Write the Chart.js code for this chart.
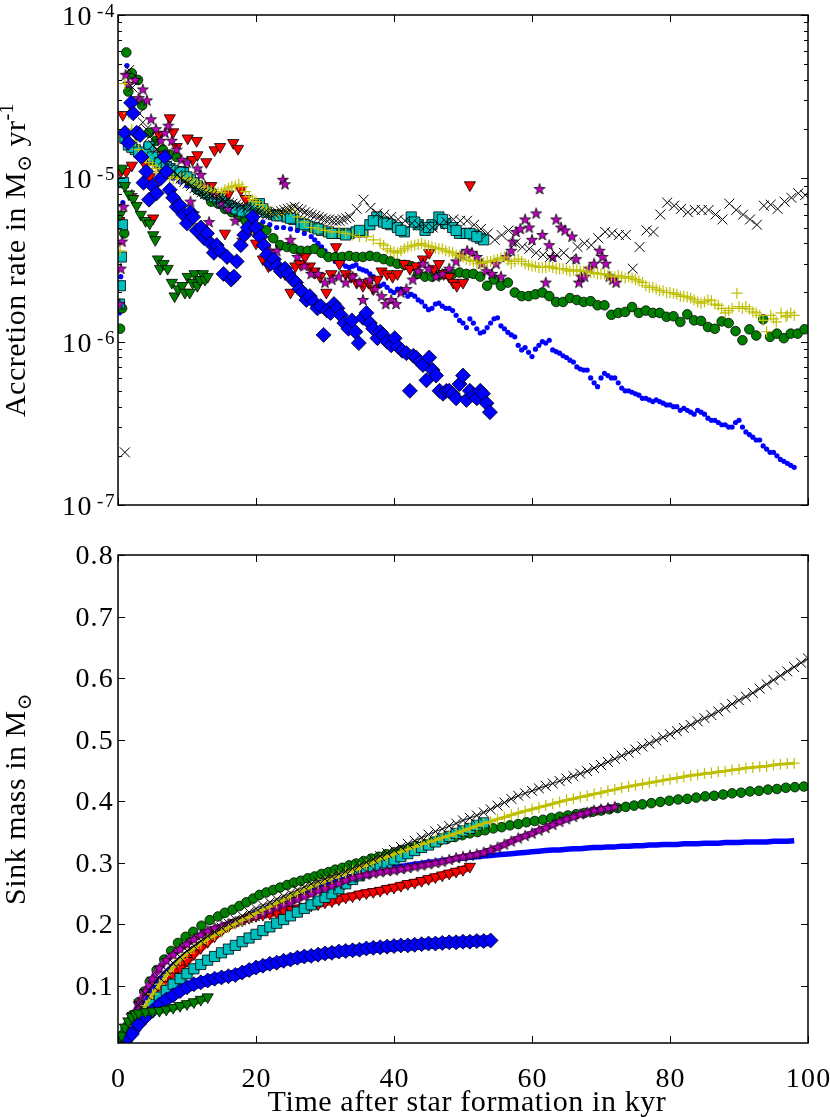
<!DOCTYPE html>
<html><head><meta charset="utf-8">
<script src="https://cdn.jsdelivr.net/npm/chart.js@4.4.1/dist/chart.umd.min.js"></script>
<style>body{margin:0;background:#fff;width:830px;height:1117px;overflow:hidden}canvas{position:absolute;left:0}</style>
</head><body>
<canvas id="c1" width="830" height="530" style="top:0"></canvas>
<canvas id="c2" width="830" height="587" style="top:530px"></canvas>
<script>
// ---------- axis ticks / labels ----------
const timeTicks = [0, 20, 40, 60, 80, 100];
const accTicks = [1e-4, 1e-5, 1e-6, 1e-7];
const accTickExp = ['-4', '-5', '-6', '-7'];
const massTicks = [0.1, 0.2, 0.3, 0.4, 0.5, 0.6, 0.7, 0.8];
const massTickLabels = ['0.1', '0.2', '0.3', '0.4', '0.5', '0.6', '0.7', '0.8'];
const ACC_UNIT = 1e-6; // accretion values below are in 1e-6 Msun/yr

// ---------- accretion rate (time kyr, rate in 1e-6 Msun/yr) ----------
const accBlueDot = [[0.2,1.5],[0.4,2.5],[0.7,7.1],[1,19.7],[1.3,49],[2,30],[3,20],[4,16],[5,13],[6,12],[7,11],[8,10],[9,9.5],[10,9],[11,8.5],[12,8],[13,7.5],[14,7],[15,6.8],[16,6.5],[17,6.3],[18,6],[19,5.8],[20,5.6],[21,5.4],[22,5.2],[23,5],[24,5],[25,4.9],[26,4.8],[27,4.6],[28,4.4],[29,4],[30,3.6],[31,3.3],[32,3],[33,2.9],[34,2.9],[35,2.8],[36,2.7],[37,2.5],[38,2.2],[39,2.15],[40,2],[41,2.1],[42,1.9],[43,1.9],[44,1.75],[45,1.57],[46,1.7],[47,1.65],[48,1.6],[49,1.45],[50,1.3],[51,1.38],[52,1.2],[53,1.15],[54,1.3],[55,1.4],[56,1.2],[57,1.1],[58,0.95],[59,0.92],[60,0.81],[61,0.95],[62,0.98],[63,0.89],[64,0.85],[65,0.8],[66,0.75],[67,0.68],[68,0.67],[69,0.56],[70,0.6],[71,0.62],[72,0.6],[73,0.52],[74,0.5],[75,0.48],[76,0.45],[77,0.44],[78,0.44],[79,0.42],[80,0.41],[81,0.4],[82,0.39],[83,0.37],[84,0.38],[85,0.36],[86,0.33],[87,0.32],[88,0.31],[89,0.3],[90,0.33],[91,0.28],[92,0.26],[93,0.25],[94,0.22],[95,0.21],[96,0.19],[97,0.18],[98,0.17],
[28.5,4.2],[29.5,3.8],[30.5,3.4],[31.5,3.1],[32.5,3],[33.5,2.85],[34.5,2.95],[35.5,2.75],[36.5,2.6],[37.5,2.4],[38.5,2.25],[39.5,2.05],[40.5,2.1],[41.5,2],[42.5,1.95],[43.5,1.8],[44.5,1.65],[45.5,1.6],[46.5,1.72],[47.5,1.6],[48.5,1.55],[49.5,1.35],[50.5,1.22],[51.5,1.3],[52.5,1.13],[53.5,1.22],[54.5,1.38],[55.5,1.25],[56.5,1.14],[57.5,1.07],[58.5,0.89],[59.5,0.86],[60.5,0.9],[61.5,1],[62.5,1.02],[63.5,0.87],[64.5,0.82],[65.5,0.77],[66.5,0.7],[67.5,0.67],[68.5,0.6],[69.5,0.53],[70.5,0.64],[71.5,0.6],[72.5,0.56],[73.5,0.5],[74.5,0.49],[75.5,0.47],[76.5,0.45],[77.5,0.43],[78.5,0.43],[79.5,0.41],[80.5,0.4],[81.5,0.38],[82.5,0.38],[83.5,0.36],[84.5,0.37],[85.5,0.34],[86.5,0.33],[87.5,0.31],[88.5,0.3],[89.5,0.32],[90.5,0.3],[91.5,0.27],[92.5,0.25],[93.5,0.23],[94.5,0.21],[95.5,0.2],[96.5,0.185],[97.5,0.175]];

const accGreenCircle = [[0.3,1.2],[0.6,1.6],[0.9,4.6],[1.2,59],[1.5,34],[2,44],[2.9,40],[3.5,28],[4.5,19],[5.5,17],[6.5,15],[7.5,14],[8.5,13.5],[9.5,11],[10.5,9.5],[11.5,8.5],[12.5,8],[13.5,7.2],[14.5,7],[15.5,6.5],[16.5,6.2],[17.5,5.8],[18.5,5.5],[19.5,5.2],[20.5,5],[21.5,4.8],[22.5,4.3],[23.5,3.9],[24.5,3.8],[25.5,3.7],[26.5,3.6],[27.5,3.6],[28.5,3.7],[29.5,3.5],[30.5,3.3],[31.5,3.3],[32.5,3.3],[33.5,3.35],[34.5,3.3],[35.5,3.3],[36.5,3.35],[37.5,3.3],[38.5,3.2],[39.5,3.1],[40.5,3],[41.5,2.95],[42.5,2.9],[43.5,2.6],[44.5,2.5],[45.5,2.5],[46.5,2.55],[47.5,2.6],[48.5,2.6],[49.5,2.65],[50.5,2.6],[51.5,2.6],[52.5,2.5],[53.5,2.2],[54.5,2.4],[55.5,2.2],[56.5,2.3],[57.5,2],[58.5,1.9],[59.5,1.9],[60.5,1.95],[61.5,2],[62.5,1.9],[63.5,1.75],[64.5,1.75],[65.5,1.85],[66.5,1.8],[67.5,1.75],[68.5,1.77],[69.5,1.67],[70.5,1.67],[71.5,1.46],[72.5,1.5],[73.5,1.52],[74.5,1.63],[75.5,1.5],[76.5,1.55],[77.5,1.5],[78.5,1.5],[79.5,1.42],[80.5,1.43],[81.5,1.32],[82.5,1.47],[83.5,1.35],[84.5,1.34],[85.5,1.23],[86.5,1.2],[87.5,1.33],[88.5,1.3],[89.5,1.16],[90.5,1.02],[91.5,1.19],[92.5,1.09],[93.5,1.37],[94.5,1.07],[95.5,1.12],[96.5,1.05],[97.5,1.12],[98.5,1.12],[99.5,1.19]];

const accRedTri = [[0.2,5.5],[0.4,11],[0.7,24.5],[1.2,11],[2,12],[3,14],[4,12],[4.6,10.2],[5.1,5.7],[6,18.5],[6.7,14],[7.5,23.4],[8,19.2],[8.5,15.6],[9.4,11.2],[10.1,17.6],[10.8,13],[11.4,17],[11.5,13.9],[12.8,12.6],[13.5,9],[14,14.9],[14.8,15.6],[15.5,4.6],[16,8],[16.7,16.5],[17.4,15.2],[17.8,8.5],[18.5,7.5],[19.3,6.5],[20,4],[21,3.2],[21.8,2.9],[22.6,3.1],[23.4,2.8],[24.2,2.6],[25,2],[25.7,2.9],[26.4,3],[27.1,3.3],[27.8,2.9],[28.5,2.7],[29.3,2.5],[30.2,2],[30.9,2.6],[31.6,3.8],[32.1,3],[33,2.6],[33.8,2.5],[34.6,2.3],[35.5,2.2],[36.3,2.3],[37,2.1],[37.6,2.4],[38.2,2.7],[39,2.6],[39.8,2.5],[40.5,2.6],[41.5,3],[42.3,2.8],[43.2,2.9],[44.2,3.2],[45.1,3.5],[45.8,2.8],[46.5,3],[47.2,2.6],[48,2.5],[48.6,2.3],[49.1,2.2],[50,2.3],[51,9.1]];

const accCyanSq = [[0.2,1.7],[0.35,2.2],[0.5,3.3],[0.65,5.2],[0.8,9.4],[1,17.6],[1.5,16],[2.5,15],[3.5,14],[4.5,15.6],[5.5,13],[6.5,12],[7.5,11.5],[8.5,11],[9.5,10.8],[10.5,9.8],[11.5,9],[12.5,8.5],[13.5,8],[14.5,7.5],[15.5,7],[16.5,6.6],[17.5,6.4],[18.5,6.2],[19.5,6.6],[20.5,7],[21.5,6.2],[22.5,6],[23.5,5.9],[24.5,5.8],[25.5,5.6],[26.5,5.3],[27.5,5.1],[28.5,5],[29.5,4.8],[30.5,4.7],[31.5,4.6],[32.5,4.6],[33.5,4.6],[34.5,4.7],[35.5,4.7],[36.5,5.2],[37.5,5.8],[38.5,5.4],[39.5,5.2],[40.5,5],[41.5,4.7],[42.5,5.8],[43.5,5.2],[44.5,4.8],[45.5,5.2],[46.5,5.8],[47.5,5.3],[48.5,5],[49.5,4.6],[50.5,4.6],[51.5,4.5],[52.5,4.3],[53,4.2],
[2,15.5],[3,14.5],[4,14],[5,13.5],[6,12.5],[7,11.8],[8,11.2],[9,10.9],[10,10.2],[11,9.4],[12,8.7],[13,8.2],[14,7.7],[15,7.2],[16,6.8],[17,6.5],[18,6.3],[19,6.4],[20,6.8],
[21,6.5],[23,5.9],[25,5.7],[27,5.2],[29,4.9],[31,4.6],[33,4.5],[35,4.8],[37,5.5],[39,5.3],[41,4.8],[43,5.4],[45,5],[47,5.6],[49,4.8],[51,4.6],[52,4.4]];

const accMagStar = [[0.2,1.7],[0.4,2.8],[0.6,4.1],[0.8,6.7],[1.1,43],[1.5,38],[2,7.9],[2.5,40],[3,31],[3.6,35],[4.2,30],[4.8,23],[5.5,20],[6.2,17],[6.8,19],[7.3,21],[7.8,17],[8.5,15],[9.2,13],[10,12.5],[10.5,7.2],[11,6.1],[11.5,11.5],[12,10.5],[12.6,9],[13.2,5.4],[14,8],[15,7],[16,6.5],[17,5.5],[18,4.2],[19,4.8],[20,4.7],[21,4.3],[22,3.6],[23,3.6],[23.9,9.8],[24.2,9.2],[25,4.2],[26,3.3],[27,2.9],[28,2.6],[29,2.6],[30,2.3],[31,2.4],[32,2.5],[33,2.3],[34,2.5],[35,2.3],[35.5,1.8],[36.5,2.4],[37.3,2.1],[38.2,1.9],[38.8,1.7],[39.6,1.8],[40.3,1.7],[41,2],[41.8,2.1],[42.7,2.4],[43.5,2.7],[44.2,3],[45,2.8],[46.1,2.5],[47,2.6],[48,2.8],[49,3.1],[49.8,3.4],[50.6,3.6],[51.3,3.5],[52,3.3],[52.7,3],[53.4,2.7],[54.2,2.6],[54.8,3],[55.5,2.5],[56.3,3.3],[57,3.6],[57.2,4.1],[57.7,4.7],[58.3,4.9],[59,5.6],[59.6,5],[60,4.2],[60.6,6.1],[61.1,8.6],[61.5,4.5],[62,2.3],[62.5,3.9],[63,3.3],[63.5,5.6],[64.2,5],[64.8,4.8],[65.8,4.4],[66.4,3.2],[66.8,2.3],[67.1,2.5],[67.6,2.5],[68.3,2.8],[69,3],[69.8,3.6],[70.2,3.3],[70.7,3],[71.2,2.5],[71.7,2.4],[72.2,2.3]];

const accYellowPlus = [[0.3,3.6],[1,38],[1.5,25],[2,20],[3,15],[4,13],[5,12],[6,11],[7,10.5],[8,10],[9,10],[10,10],[11,9.5],[12,9],[13,8.5],[14,8.3],[15,8.2],[16,8.7],[17,9],[18,8.9],[19,7.7],[20,7.2],[21,6.6],[22,6.2],[23,6],[24,6.2],[25,6.4],[26,5.8],[27,5.4],[28,5],[29,4.9],[30,4.8],[31,4.7],[32,4.7],[33,4.6],[34,4.5],[35,4.4],[36,4.4],[37,4.2],[38,4],[39,3.7],[40,3.55],[41,3.6],[42,3.8],[43,3.9],[44,4],[45,3.85],[46,3.75],[47,3.7],[48,3.55],[49,3.4],[50,3.3],[51,3.15],[52,3],[53,3.05],[54,3.1],[55,3.2],[56,3.3],[57,3],[58,3.2],[59,3],[60,2.9],[61,2.85],[62,2.85],[63,2.85],[64,2.8],[65,2.75],[66,2.75],[67,2.7],[68,2.7],[69,2.65],[70,2.6],[71,2.55],[72,2.5],[73,2.5],[74,2.5],[75,2.4],[76,2.3],[77,2.15],[78,2.1],[79,2.05],[80,2],[81,1.95],[82,1.9],[83,1.85],[84,1.75],[85,1.75],[86,1.78],[87,1.67],[88,1.5],[89,1.6],[89.7,1.98],[90,1.64],[91,1.64],[92,1.52],[93,1.45],[94,1.15],[94.6,1.45],[95.4,1.32],[96.1,1.5],[96.8,1.42],[97.5,1.5],[98,1.45],
[2.5,17],[3.5,14],[4.5,12.5],[5.5,11.5],[6.5,10.8],[7.5,10.2],[8.5,10],[9.5,10],[10.5,9.8],[11.5,9.2],[12.5,8.8],[13.5,8.4],[14.5,8.2],[15.5,8.5],[16.5,8.9],[17.5,9.2],[18.5,8.3],[19.5,7.4],[20.5,6.9],[21.5,6.4],
[38.5,3.9],[39.5,3.6],[40.5,3.5],[41.5,3.7],[42.5,3.85],[43.5,3.95],[44.5,3.9],[45.5,3.8],[46.5,3.7],[47.5,3.6],[48.5,3.5],[49.5,3.35],[50.5,3.2],[51.5,3.1],[52.5,3],[53.5,3.1],[54.5,3.15],[55.5,3.25],[56.5,3.15],[57.5,3.1],[58.5,3.1],[59.5,2.95],[60.5,2.9],[61.5,2.85],[62.5,2.9],[63.5,2.8],[64.5,2.8],[65.5,2.7],[66.5,2.75],[67.5,2.7],[68.5,2.65],[69.5,2.6],[70.5,2.6],[71.5,2.5],[72.5,2.55],[73.5,2.45],[74.5,2.45],[75.5,2.35],[76.5,2.2],[77.5,2.15],[78.5,2.05],[79.5,2],[80.5,1.98],[81.5,1.9],[82.5,1.88],[83.5,1.8],[84.5,1.72],[85.5,1.8],[86.5,1.7],[87.5,1.6],[88.5,1.55],[90.5,1.6],[91.5,1.58],[92.5,1.5],[93.5,1.35],[95,1.38],[97,1.45]];

const accBlackX = [[1,0.21],[1.6,46],[2.6,30],[3.6,22],[4.6,18],[5.6,15],[6.6,13],[7.6,11.5],[8.6,10.5],[9.6,9.5],[10.6,9],[11.6,8.5],[12.6,8],[13.6,7.8],[14.6,7.5],[15.6,7.2],[16.6,7],[17.6,6.8],[18.6,6.6],[19.6,6.4],[20.6,6.2],[21.6,6],[22.6,6.1],[23.6,6.3],[24.6,6.5],[25.6,6.7],[26.6,6.4],[27.6,6.1],[28.6,5.9],[29.6,5.7],[30.6,5.6],[31.6,5.5],[32.6,5.6],[33.6,5.8],[34.6,6.5],[35.6,7.4],[36.6,6.6],[37.6,6.1],[38.6,6],[39.6,5.8],[40.6,5.6],[41.6,5.5],[42.6,5.3],[43.6,5.2],[44.6,5.1],[45.6,5],[46.6,5.2],[47.6,5.4],[48.6,5.6],[49.6,5.5],[50.6,5.5],[51.6,5.2],[52.6,4.9],[53.6,4.6],[54.6,4.2],[55.6,4.5],[56.6,4.8],[57.6,4],[58.6,3.8],[59.6,3.7],[60.6,3.5],[61.6,3.4],[62.6,3.3],[63.6,3.4],[64.6,3.5],[65.6,3.2],[66.6,3.8],[67.6,4],[68.6,3.9],[69.6,4.3],[70.6,4.7],[71.6,4.6],[72.6,4.5],[73.6,4.5],[74.6,2.8],[75.6,3.8],[76.6,4.8],[77.6,4.7],[78.6,6],[79.6,7.1],[80.6,6.8],[81.6,6.5],[82.6,6.2],[83.6,6.4],[84.6,6.4],[85.6,6.4],[86.6,6],[87.6,5.6],[88.6,7],[89.6,6.4],[90.6,6],[91.6,5.6],[92.6,5.2],[93.6,6.8],[94.6,6.9],[95.6,6.5],[96.6,7.2],[97.6,7.6],[98.6,8.1],[99.6,7.9],
[2.1,36],[3.1,25],[4.1,20],[5.1,16],[6.1,14],[7.1,12],[8.1,11],[9.1,10],[10.1,9.3],[11.1,8.7],[12.1,8.2],[13.1,7.9],[14.1,7.6],[15.1,7.4],[16.1,7.1],[17.1,6.9],[18.1,6.7],[19.1,6.5],[20.1,6.3],[21.1,6.1],[22.1,6],[23.1,6.2],[24.1,6.4],[25.1,6.6],[26.1,6.5],[27.1,6.2],[28.1,6],[29.1,5.8],[30.1,5.6],[31.1,5.5],[32.1,5.5],[33.1,5.7]];

const accBlueDiamond = [[1,19],[1.5,16.5],[1.9,29],[2.2,25],[2.7,19],[3.2,18.4],[3.4,13.5],[3.7,9.4],[4.1,11],[4.5,7.4],[5,9],[5.6,8.1],[6.2,10],[6.8,13.5],[7,11],[7.5,8.5],[8,7.6],[8.5,6.7],[9,6.8],[9.5,6],[10,5.3],[10.5,6.2],[10.9,5.8],[11.4,4.8],[12,5],[12.5,4.3],[12.9,4.6],[13.4,4],[13.9,3.5],[14.3,3.9],[14.8,3.6],[15.3,2.6],[15.8,3.3],[16.4,2.4],[16.8,2.5],[17.2,3.1],[17.8,3.9],[18.3,4.5],[18.8,5],[19.5,5.8],[20,5],[20.6,4.4],[21.1,3.9],[21.6,3.4],[22.1,3],[22.6,3.2],[23.1,2.9],[23.6,2.7],[24.2,2.8],[24.7,2.6],[25.3,2.4],[25.8,2.3],[26.3,2.1],[26.8,2],[27.3,1.8],[27.8,1.9],[28.4,1.75],[28.9,1.6],[29.4,1.65],[29.8,1.1],[30.3,1.55],[30.8,1.5],[31.3,1.7],[31.8,1.6],[32.3,1.45],[32.8,1.3],[33.4,1.2],[33.9,1.35],[34.4,1.15],[34.9,0.98],[35.5,1.4],[36,1.5],[36.5,1.3],[37,1.2],[37.6,1.05],[38,1.15],[38.4,1.1],[39,1],[39.6,0.95],[40.1,1.05],[40.6,0.93],[41.2,0.88],[41.8,0.85],[42.3,0.5],[42.8,0.82],[43.2,0.8],[43.8,0.75],[44.2,0.72],[44.7,0.58],[45.1,0.8],[45.6,0.67],[46.1,0.62],[46.6,0.5],[47.1,0.48],[47.6,0.5],[48,0.5],[48.5,0.48],[49,0.45],[49.5,0.55],[50,0.62],[50.5,0.44],[51,0.5],[51.5,0.47],[52,0.45],[52.5,0.5],[52.9,0.48],[53.4,0.42],[53.9,0.37]];

const accGreenTri = [[0.3,6],[0.6,11.5],[1,9],[1.6,8],[2.2,7.5],[2.7,6.8],[3.3,6],[4,5.5],[4.6,5.3],[5.1,4.5],[5.4,4.2],[5.8,3.2],[6.1,2.8],[6.6,3],[7.2,2.8],[7.8,2.3],[8.2,1.9],[8.7,2.1],[9.3,2.2],[9.7,2],[10.1,2.5],[10.4,2],[10.8,2.3],[11.1,2.6],[11.5,2.2],[11.9,2.4],[12.3,2.6],[12.6,2.4],[13,2.5]];

// ---------- sink mass (Msun) on the time grid tMass (kyr) ----------
const tMass = [0,1,2,3,4,5,6,7,8,9,10,11,12,13,14,15,16,17,18,19,20,21,22,23,24,25,26,27,28,29,30,31,32,33,34,35,36,37,38,39,40,41,42,43,44,45,46,47,48,49,50,51,52,53,54,55,56,57,58,59,60,61,62,63,64,65,66,67,68,69,70,71,72,73,74,75,76,77,78,79,80,81,82,83,84,85,86,87,88,89,90,91,92,93,94,95,96,97,98,99,100];
const massBlueDot = [0.004,0.02,0.045,0.065,0.083,0.098,0.111,0.123,0.134,0.144,0.153,0.161,0.169,0.176,0.183,0.19,0.196,0.202,0.208,0.213,0.219,0.224,0.229,0.234,0.239,0.244,0.248,0.253,0.257,0.261,0.265,0.268,0.271,0.274,0.277,0.28,0.283,0.285,0.288,0.29,0.292,0.294,0.296,0.298,0.299,0.301,0.302,0.304,0.305,0.307,0.308,0.309,0.31,0.311,0.312,0.313,0.314,0.315,0.316,0.317,0.318,0.319,0.32,0.321,0.321,0.322,0.323,0.323,0.324,0.325,0.325,0.326,0.326,0.327,0.327,0.328,0.328,0.329,0.329,0.33,0.33,0.33,0.331,0.331,0.331,0.332,0.332,0.332,0.333,0.333,0.333,0.334,0.334,0.334,0.334,0.335,0.335,0.335,0.336];
const massRedTri = [0.004,0.015,0.03,0.045,0.06,0.074,0.088,0.102,0.116,0.129,0.141,0.152,0.162,0.172,0.181,0.19,0.197,0.203,0.207,0.211,0.214,0.216,0.218,0.22,0.222,0.224,0.226,0.228,0.231,0.233,0.236,0.238,0.241,0.244,0.246,0.249,0.251,0.253,0.255,0.258,0.26,0.263,0.266,0.268,0.271,0.274,0.277,0.28,0.283,0.286,0.289,0.294];
const massCyanSq = [0.004,0.015,0.03,0.045,0.058,0.07,0.082,0.093,0.103,0.112,0.12,0.128,0.135,0.142,0.148,0.154,0.16,0.166,0.172,0.178,0.184,0.19,0.196,0.202,0.208,0.214,0.22,0.226,0.232,0.238,0.244,0.25,0.258,0.266,0.273,0.279,0.284,0.289,0.295,0.3,0.305,0.31,0.315,0.32,0.325,0.329,0.334,0.339,0.343,0.348,0.352,0.356,0.361,0.365];
const massMagStar = [0.005,0.02,0.045,0.072,0.092,0.112,0.129,0.142,0.151,0.16,0.168,0.176,0.183,0.189,0.194,0.197,0.201,0.204,0.207,0.211,0.214,0.218,0.223,0.228,0.232,0.236,0.241,0.246,0.25,0.255,0.259,0.263,0.267,0.272,0.276,0.279,0.281,0.283,0.285,0.287,0.288,0.29,0.292,0.294,0.296,0.298,0.3,0.302,0.305,0.308,0.31,0.312,0.314,0.317,0.321,0.325,0.33,0.335,0.34,0.344,0.348,0.353,0.357,0.362,0.367,0.371,0.375,0.379,0.382,0.385,0.387,0.389,0.391];
const massYellowPlus = [0.005,0.02,0.035,0.05,0.068,0.087,0.103,0.118,0.131,0.143,0.153,0.161,0.169,0.176,0.182,0.188,0.195,0.201,0.207,0.212,0.218,0.224,0.229,0.235,0.24,0.246,0.251,0.256,0.261,0.266,0.27,0.275,0.279,0.284,0.288,0.292,0.297,0.301,0.306,0.31,0.314,0.318,0.322,0.326,0.33,0.334,0.337,0.341,0.344,0.348,0.352,0.356,0.36,0.364,0.367,0.371,0.374,0.378,0.381,0.384,0.387,0.39,0.393,0.396,0.399,0.402,0.404,0.407,0.409,0.412,0.414,0.417,0.419,0.422,0.424,0.426,0.428,0.43,0.432,0.434,0.436,0.438,0.44,0.442,0.443,0.445,0.446,0.448,0.449,0.451,0.452,0.454,0.455,0.456,0.457,0.459,0.46,0.461,0.462];
const massBlackX = [0.008,0.025,0.05,0.07,0.087,0.101,0.114,0.126,0.137,0.147,0.157,0.165,0.173,0.181,0.188,0.195,0.202,0.208,0.214,0.22,0.226,0.231,0.236,0.241,0.246,0.251,0.256,0.261,0.266,0.27,0.274,0.278,0.282,0.286,0.291,0.296,0.301,0.306,0.311,0.316,0.321,0.326,0.331,0.336,0.341,0.346,0.351,0.355,0.36,0.364,0.369,0.373,0.377,0.382,0.387,0.393,0.398,0.404,0.409,0.413,0.417,0.421,0.425,0.429,0.433,0.437,0.441,0.445,0.449,0.454,0.459,0.464,0.469,0.474,0.479,0.484,0.489,0.494,0.499,0.504,0.509,0.514,0.519,0.524,0.53,0.535,0.54,0.546,0.552,0.558,0.564,0.57,0.576,0.583,0.59,0.597,0.604,0.611,0.618,0.625,0.632];
const massBlueDiamond = [0.002,0.01,0.022,0.038,0.05,0.06,0.07,0.078,0.085,0.092,0.098,0.103,0.106,0.109,0.112,0.114,0.116,0.118,0.122,0.126,0.13,0.133,0.136,0.138,0.141,0.143,0.146,0.148,0.149,0.151,0.153,0.154,0.156,0.157,0.158,0.159,0.161,0.162,0.163,0.164,0.165,0.166,0.166,0.167,0.168,0.169,0.169,0.17,0.171,0.171,0.172,0.172,0.173,0.173,0.174];
const massGreenCircle = [[0.3,0.012],[0.8,0.022],[1.4,0.036],[2.1,0.053],[3,0.074],[3.8,0.091],[4.6,0.107],[5.6,0.126],[6.7,0.143],[7.7,0.157],[8.7,0.17],[9.8,0.18],[10.9,0.188],[12.1,0.198],[13.3,0.207],[14.5,0.213],[15.5,0.219],[16.6,0.224],[17.6,0.23],[18.6,0.236],[19.6,0.242],[20.5,0.248],[21.5,0.252],[22.5,0.256],[23.5,0.26],[24.5,0.264],[25.5,0.268],[26.5,0.271],[27.5,0.275],[28.5,0.278],[29.5,0.282],[30.5,0.285],[31.5,0.289],[32.5,0.292],[33.5,0.296],[34.5,0.299],[35.6,0.303],[36.7,0.307],[37.8,0.31],[38.9,0.314],[40,0.317],[41.1,0.321],[42.2,0.324],[43.3,0.327],[44.4,0.33],[45.5,0.333],[46.6,0.336],[47.7,0.339],[48.8,0.342],[49.9,0.345],[51,0.348],[52.1,0.35],[53.2,0.353],[54.4,0.356],[55.6,0.358],[56.8,0.361],[58,0.363],[59.2,0.366],[60.4,0.368],[61.6,0.37],[62.8,0.373],[64,0.375],[65.2,0.377],[66.4,0.379],[67.6,0.381],[68.8,0.383],[70,0.385],[71.2,0.387],[72.4,0.389],[73.6,0.391],[74.8,0.393],[76,0.395],[77.3,0.397],[78.6,0.399],[79.9,0.401],[81.2,0.403],[82.5,0.404],[83.8,0.406],[85.1,0.408],[86.4,0.409],[87.7,0.411],[89,0.413],[90.3,0.414],[91.6,0.416],[92.9,0.417],[94.2,0.419],[95.5,0.42],[96.8,0.422],[98.1,0.423],[99.4,0.424],[100.7,0.426]];
const massGreenTri = [[0,0.005],[0.5,0.02],[1,0.033],[1.5,0.043],[2,0.05],[2.5,0.054],[3,0.056],[4,0.058],[5,0.059],[6,0.06],[7,0.062],[8,0.065],[9,0.068],[10,0.071],[11,0.074],[12,0.078],[13,0.082]];

// ---------- helpers ----------
const FONT = "'Liberation Serif','DejaVu Serif',serif";
const fromPairs = (pairs, unit) => pairs.map(p => ({x: p[0], y: p[1] * unit}));
const onGrid = (vals) => vals.map((v, i) => ({x: tMass[i], y: v}));

function makeStar() {
  const c = document.createElement('canvas'); c.width = 14; c.height = 14;
  const g = c.getContext('2d'); g.beginPath();
  for (let i = 0; i < 10; i++) {
    const r = i % 2 ? 2.3 : 5.8, a = -Math.PI / 2 + i * Math.PI / 5;
    g.lineTo(7 + r * Math.cos(a), 7.3 + r * Math.sin(a));
  }
  g.closePath(); g.fillStyle = '#bf00bf'; g.fill();
  g.lineWidth = 0.8; g.strokeStyle = '#000'; g.stroke();
  return c;
}
const STAR = makeStar();

const C = {b:'#0000ff', g:'#008000', r:'#ff0000', c:'#00bfbf', m:'#bf00bf', y:'#bfbf00', k:'#000000'};
const styles = {
  blueDot:    {pointStyle:'circle', pointRadius:2.6, pointBackgroundColor:C.b, pointBorderColor:C.b, pointBorderWidth:0},
  greenCirc:  {pointStyle:'circle', pointRadius:4.8, pointBackgroundColor:C.g, pointBorderColor:'#000', pointBorderWidth:0.8},
  redTri:     {pointStyle:'triangle', pointRotation:180, pointRadius:6.5, pointBackgroundColor:C.r, pointBorderColor:'#000', pointBorderWidth:0.8},
  cyanSq:     {pointStyle:'rect', pointRadius:7.2, pointBackgroundColor:C.c, pointBorderColor:'#000', pointBorderWidth:0.8},
  magStar:    {pointStyle:STAR, pointRadius:6},
  yellowPlus: {pointStyle:'cross', pointRadius:5.5, pointBorderColor:C.y, pointBorderWidth:1.2},
  blackX:     {pointStyle:'crossRot', pointRadius:7, pointBorderColor:'#000', pointBorderWidth:1},
  blueDiam:   {pointStyle:'rectRot', pointRadius:7.5, pointBackgroundColor:C.b, pointBorderColor:'#000', pointBorderWidth:0.8},
  greenTri:   {pointStyle:'triangle', pointRotation:180, pointRadius:6.5, pointBackgroundColor:C.g, pointBorderColor:'#000', pointBorderWidth:0.8}
};
function ds(data, style, line) {
  const d = Object.assign({data, showLine:false, clip:0, pointHoverRadius:0}, style);
  if (line) Object.assign(d, {showLine:true, borderColor:line[0], borderWidth:line[1], tension:0, borderJoinStyle:'round'});
  return d;
}

// text with sub/superscripts: parts = [[text, size, dy], ...]
function setFont(ctx, size, spacing) { ctx.font = size + 'px ' + FONT; ctx.letterSpacing = (spacing || 0) + 'px'; }
function richWidth(ctx, parts, sp) {
  let w = 0; for (const p of parts) { setFont(ctx, p[1], sp); w += ctx.measureText(p[0]).width; } return w;
}
function drawRich(ctx, parts, x, y, sp) {
  let cx = x;
  for (const p of parts) { setFont(ctx, p[1], sp); ctx.fillText(p[0], cx, y + p[2]); cx += ctx.measureText(p[0]).width; }
}
function drawFrame(ctx, a, xs, ys, yMajor, yMinor) {
  ctx.strokeStyle = '#000'; ctx.lineWidth = 1;
  const seg = (x1, y1, x2, y2) => { ctx.beginPath(); ctx.moveTo(x1, y1); ctx.lineTo(x2, y2); ctx.stroke(); };
  for (const v of timeTicks) { const px = Math.round(xs.getPixelForValue(v)) + 0.5; seg(px, a.bottom, px, a.bottom - 7); seg(px, a.top, px, a.top + 7); }
  for (const v of yMajor) { const py = Math.round(ys.getPixelForValue(v)) + 0.5; seg(a.left, py, a.left + 7, py); seg(a.right, py, a.right - 7, py); }
  for (const v of yMinor) { const py = Math.round(ys.getPixelForValue(v)) + 0.5; seg(a.left, py, a.left + 4, py); seg(a.right, py, a.right - 4, py); }
  ctx.lineWidth = 1.5; ctx.strokeRect(a.left, a.top, a.right - a.left, a.bottom - a.top);
}
function verticalTitle(ctx, parts, x, cy) {
  ctx.save(); ctx.translate(x, cy); ctx.rotate(-Math.PI / 2);
  ctx.textAlign = 'left'; ctx.textBaseline = 'alphabetic';
  drawRich(ctx, parts, -richWidth(ctx, parts, 0.5) / 2, 0, 0.5);
  ctx.restore();
}

const accMinor = [];
for (const d of [1e-7, 1e-6, 1e-5]) for (let k = 2; k <= 9; k++) accMinor.push(k * d);

const topAxes = {id:'topAxes', afterDraw(chart) {
  const {ctx, chartArea:a, scales:{x, y}} = chart;
  ctx.save(); drawFrame(ctx, a, x, y, accTicks, accMinor);
  ctx.fillStyle = '#000'; ctx.textBaseline = 'alphabetic';
  accTicks.forEach((v, i) => {
    const py = y.getPixelForValue(v);
    setFont(ctx, 28, 1.5); ctx.textAlign = 'right'; ctx.fillText('10', 93, py + 10);
    setFont(ctx, 19, 0); ctx.textAlign = 'left';
    ctx.fillText('-', 97, py + 2); ctx.fillText(accTickExp[i].slice(1), 105, py + 2);
  });
  verticalTitle(ctx, [['Accretion rate in M', 30, 0], ['\u2299', 20, 6], [' yr', 30, 0], ['-1', 20, -12]], 25, (a.top + a.bottom) / 2);
  ctx.restore();
}};
const bottomAxes = {id:'bottomAxes', afterDraw(chart) {
  const {ctx, chartArea:a, scales:{x, y}} = chart;
  ctx.save(); drawFrame(ctx, a, x, y, massTicks, []);
  ctx.fillStyle = '#000'; ctx.textBaseline = 'alphabetic';
  setFont(ctx, 28, 1.2); ctx.textAlign = 'right';
  massTicks.forEach((v, i) => ctx.fillText(massTickLabels[i], 114, y.getPixelForValue(v) + 9));
  ctx.textAlign = 'center';
  timeTicks.forEach(v => ctx.fillText(String(v), x.getPixelForValue(v) + 0.6, a.bottom + 44));
  setFont(ctx, 30, 0.6);
  ctx.fillText('Time after star formation in kyr', (a.left + a.right) / 2 + 4, a.bottom + 68);
  verticalTitle(ctx, [['Sink mass in M', 30, 0], ['\u2299', 20, 6]], 25, (a.top + a.bottom) / 2);
  ctx.restore();
}};

const baseOpts = (pad, yScale) => ({
  responsive:false, animation:false, events:[], devicePixelRatio:1,
  layout:{padding:pad},
  plugins:{legend:{display:false}, tooltip:{enabled:false}},
  scales:{x:{type:'linear', min:0, max:100, display:false}, y:Object.assign({display:false}, yScale)}
});

// matplotlib draws later series on top; Chart.js draws dataset 0 on top -> reverse
const topSets = [
  ds(fromPairs(accBlueDot, ACC_UNIT), styles.blueDot),
  ds(fromPairs(accGreenCircle, ACC_UNIT), styles.greenCirc),
  ds(fromPairs(accRedTri, ACC_UNIT), styles.redTri),
  ds(fromPairs(accCyanSq, ACC_UNIT), styles.cyanSq),
  ds(fromPairs(accMagStar, ACC_UNIT), styles.magStar),
  ds(fromPairs(accYellowPlus, ACC_UNIT), styles.yellowPlus),
  ds(fromPairs(accBlackX, ACC_UNIT), styles.blackX),
  ds(fromPairs(accBlueDiamond, ACC_UNIT), styles.blueDiam),
  ds(fromPairs(accGreenTri, ACC_UNIT), styles.greenTri)
].reverse();

const bottomSets = [
  ds(onGrid(massBlueDot), {pointRadius:0}, [C.b, 5.5]),
  ds(fromPairs(massGreenCircle, 1), styles.greenCirc),
  ds(onGrid(massRedTri), styles.redTri, [C.r, 8]),
  ds(onGrid(massCyanSq), styles.cyanSq, [C.c, 9]),
  ds(onGrid(massMagStar), styles.magStar, [C.m, 6]),
  ds(onGrid(massYellowPlus), styles.yellowPlus, [C.y, 3]),
  ds(onGrid(massBlackX), styles.blackX, ['#333', 1.2]),
  ds(onGrid(massBlueDiamond), styles.blueDiam, [C.b, 11]),
  ds(fromPairs(massGreenTri, 1), styles.greenTri, [C.g, 7])
].reverse();

new Chart(document.getElementById('c1'), {
  type:'scatter', data:{datasets:topSets},
  options:baseOpts({left:118, right:22, top:15, bottom:25}, {type:'logarithmic', min:1e-7, max:1e-4}),
  plugins:[topAxes]
});
new Chart(document.getElementById('c2'), {
  type:'scatter', data:{datasets:bottomSets},
  options:baseOpts({left:118, right:22, top:25, bottom:74}, {type:'linear', min:0.0075, max:0.8}),
  plugins:[bottomAxes]
});
</script>
</body></html>
